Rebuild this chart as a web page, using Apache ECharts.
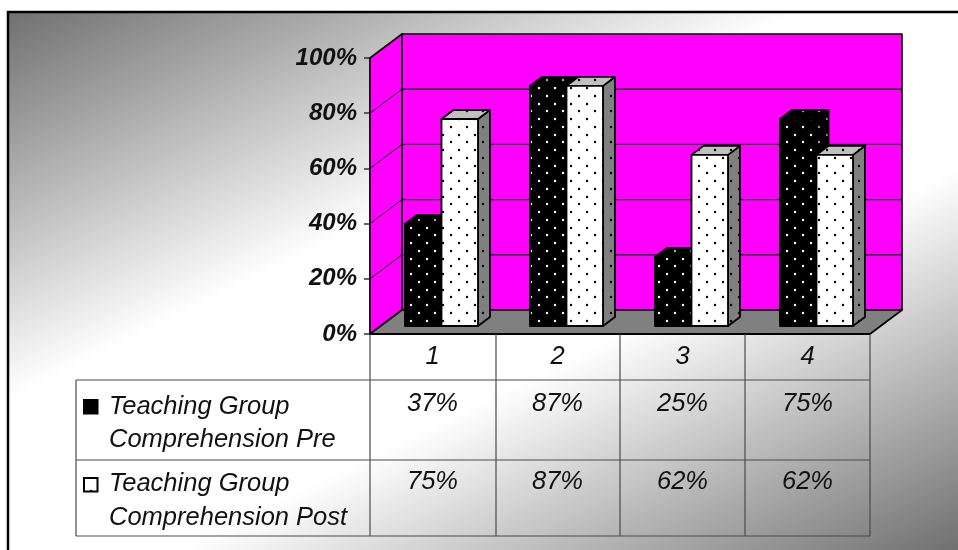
<!DOCTYPE html>
<html>
<head>
<meta charset="utf-8">
<style>html,body{margin:0;padding:0;background:#fff}#chart{width:958px;height:550px}</style>
<script src="https://cdn.jsdelivr.net/npm/echarts@6/dist/echarts.min.js"></script>
</head>
<body>
<div id="chart"></div>
<script>
// Chart data
const categories = ['1', '2', '3', '4'];
const preValues = [37, 87, 25, 75];
const postValues = [75, 87, 62, 62];
const preLabel = ['Teaching Group', 'Comprehension Pre'];
const postLabel = ['Teaching Group', 'Comprehension Post'];
const yTicks = [0, 20, 40, 60, 80, 100];

// Pseudo-3D geometry, in pixels
const WALL_DX = 32, WALL_DY = -24;    // depth of the chart box
const BAR_DX = 12, BAR_DY = -9;       // depth of one column
const BAR_SHIFT_X = 9, BAR_SHIFT_Y = -8; // columns stand mid-way on the floor
const BAR_W = 36.5;
const FONT = '"Liberation Sans", Arial, sans-serif';

// Staggered dot fill used on every column face
function dots(bg, ink) {
  const c = document.createElement('canvas');
  c.width = 16; c.height = 31;
  const g = c.getContext('2d');
  g.fillStyle = bg; g.fillRect(0, 0, 16, 31);
  g.fillStyle = ink;
  [[3, 3], [11, 11], [3, 18], [11, 26]].forEach(p => {
    g.beginPath(); g.arc(p[0], p[1], 1.2, 0, Math.PI * 2); g.fill();
  });
  return { image: c, repeat: 'repeat' };
}
const FACES = {
  pre: { front: dots('#000', '#fff'), top: dots('#000', '#aaa'), side: dots('#000', '#999') },
  post: { front: dots('#fff', '#000'), top: dots('#c0c0c0', '#000'), side: dots('#808080', '#000') }
};

function poly(points, fill, lineWidth) {
  return { type: 'polygon', shape: { points }, style: { fill, stroke: '#000', lineWidth: lineWidth, lineJoin: 'round' } };
}
function line(x1, y1, x2, y2, stroke, lineWidth) {
  return { type: 'line', shape: { x1, y1, x2, y2 }, style: { stroke, lineWidth } };
}

// Back wall, side wall and floor of the box
function renderBox(params, api) {
  const cs = params.coordSys;
  const l = cs.x, r = cs.x + cs.width;
  const y0 = api.coord([0, 0])[1], yTop = api.coord([0, 100])[1];
  const dx = WALL_DX, dy = WALL_DY;
  return { type: 'group', children: [
    poly([[l + dx, yTop + dy], [r + dx, yTop + dy], [r + dx, y0 + dy], [l + dx, y0 + dy]], '#ff00ff', 1.6),
    poly([[l, yTop], [l + dx, yTop + dy], [l + dx, y0 + dy], [l, y0]], '#ff00ff', 1.6),
    poly([[l, y0], [l + dx, y0 + dy], [r + dx, y0 + dy], [r, y0]], '#808080', 1.6),
    line(l, y0, r, y0, '#000', 2)
  ]};
}
// One gridline per tick, running across the side wall and back wall
function renderGrid(params, api) {
  const cs = params.coordSys;
  const l = cs.x, r = cs.x + cs.width;
  const y = api.coord([0, api.value(0)])[1];
  return { type: 'group', children: [
    line(l, y, l + WALL_DX, y + WALL_DY, '#000', 1),
    line(l + WALL_DX, y + WALL_DY, r + WALL_DX, y + WALL_DY, '#222', 1.4)
  ]};
}
// A column with front, top and side faces
function columnRenderer(faces, slot) {
  return function (params, api) {
    const p = api.coord([api.value(0), api.value(1)]);
    const base = api.coord([api.value(0), 0])[1] + BAR_SHIFT_Y;
    const x0 = p[0] + BAR_SHIFT_X + slot * BAR_W, x1 = x0 + BAR_W;
    const y1 = p[1] + BAR_SHIFT_Y;
    const dx = BAR_DX, dy = BAR_DY;
    return { type: 'group', children: [
      poly([[x1, y1], [x1 + dx, y1 + dy], [x1 + dx, base + dy], [x1, base]], faces.side, 1.8),
      poly([[x0, y1], [x0 + dx, y1 + dy], [x1 + dx, y1 + dy], [x1, y1]], faces.top, 1.8),
      poly([[x0, y1], [x1, y1], [x1, base], [x0, base]], faces.front, 1.8)
    ]};
  };
}
// Percent figures in the data table below each category
function tableCells(rowY) {
  return function (params, api) {
    const x = api.coord([api.value(0), 0])[0];
    return { type: 'text', style: {
      x: x, y: rowY, text: api.value(1) + '%', align: 'center', verticalAlign: 'middle',
      font: 'italic 25.5px ' + FONT, fill: '#111'
    }};
  };
}
const pairs = values => values.map((v, i) => [i, v]);

// Frame, table rules and legend keys
const T = { left: 76, right: 870, top: 334, r1: 380, r2: 460, bottom: 536 };
const COLS = [370, 496, 620, 745, 870];
const ruleColor = '#4a4a4a';
const graphics = [];

// Diagonal sheen inside the frame: dark in two opposite corners, white across the middle
graphics.push({ type: 'rect', silent: true, z: 0, shape: { x: 8, y: 12, width: 950, height: 538 }, style: {
  fill: {
    type: 'linear', global: true, x: 8, y: 12, x2: 404, y2: 821,
    colorStops: [
      { offset: 0, color: '#707070' }, { offset: 0.386, color: '#ffffff' },
      { offset: 0.62, color: '#ffffff' }, { offset: 1, color: '#707070' }
    ]
  }
}});
function rule(x1, y1, x2, y2, c, w) {
  graphics.push({ type: 'line', silent: true, z: 5, shape: { x1, y1, x2, y2 }, style: { stroke: c || ruleColor, lineWidth: w || 1.2 } });
}
rule(8, 11, 8, 550, '#000', 2.5);
rule(7, 12, 958, 12, '#000', 2.5);
COLS.forEach(x => rule(x, T.top, x, T.bottom));
rule(T.left, T.r1, T.right, T.r1);
rule(T.left, T.r2, T.right, T.r2);
rule(T.left, T.bottom, T.right, T.bottom);
rule(T.left, T.r1, T.left, T.bottom);

function legendEntry(lines, faces, keyY, y1, y2) {
  graphics.push({ type: 'rect', z: 6, silent: true, shape: { x: 84, y: keyY, width: 13.5, height: 13.5 },
    style: { fill: faces.front, stroke: '#000', lineWidth: 2 } });
  [y1, y2].forEach((y, i) => graphics.push({ type: 'text', z: 6, silent: true, style: {
    x: 109, y: y, text: lines[i], font: 'italic 25.5px ' + FONT, fill: '#111', verticalAlign: 'middle', align: 'left'
  }}));
}
legendEntry(preLabel, FACES.pre, 400, 407, 440);
legendEntry(postLabel, FACES.post, 478, 484, 518);

const chart = echarts.init(document.getElementById('chart'), null, { renderer: 'canvas' });
chart.setOption({
  animation: false,
  backgroundColor: '#ffffff',
  grid: { left: 370, top: 58, width: 500, height: 276, containLabel: false },
  xAxis: {
    type: 'category', data: categories,
    axisLine: { show: false }, axisTick: { show: false }, splitLine: { show: false },
    axisLabel: { color: '#111', fontFamily: FONT, fontStyle: 'italic', fontSize: 25.5, margin: 10 }
  },
  yAxis: {
    type: 'value', min: 0, max: 100, interval: 20,
    axisLine: { show: true, lineStyle: { color: '#333', width: 1.5 } },
    axisTick: { show: true, length: 6, lineStyle: { color: '#333', width: 1.5 } },
    splitLine: { show: false },
    axisLabel: {
      formatter: v => v + '%', color: '#111', fontFamily: FONT,
      fontStyle: 'italic', fontWeight: 'bold', fontSize: 24, margin: 13
    }
  },
  series: [
    { type: 'custom', name: 'box', silent: true, renderItem: renderBox, data: [[0]], z: 1 },
    { type: 'custom', name: 'grid', silent: true, renderItem: renderGrid, data: yTicks.slice(1, -1).map(v => [v]), encode: { y: 0 }, z: 2 },
    { type: 'custom', name: preLabel.join(' '), renderItem: columnRenderer(FACES.pre, -1), data: pairs(preValues), encode: { x: 0, y: 1 }, z: 3 },
    { type: 'custom', name: postLabel.join(' '), renderItem: columnRenderer(FACES.post, 0), data: pairs(postValues), encode: { x: 0, y: 1 }, z: 4 },
    { type: 'custom', name: 'pre cells', silent: true, renderItem: tableCells(404), data: pairs(preValues), encode: { x: 0, y: 1 }, z: 6 },
    { type: 'custom', name: 'post cells', silent: true, renderItem: tableCells(482), data: pairs(postValues), encode: { x: 0, y: 1 }, z: 6 }
  ],
  graphic: { elements: graphics }
});
</script>
</body>
</html>
